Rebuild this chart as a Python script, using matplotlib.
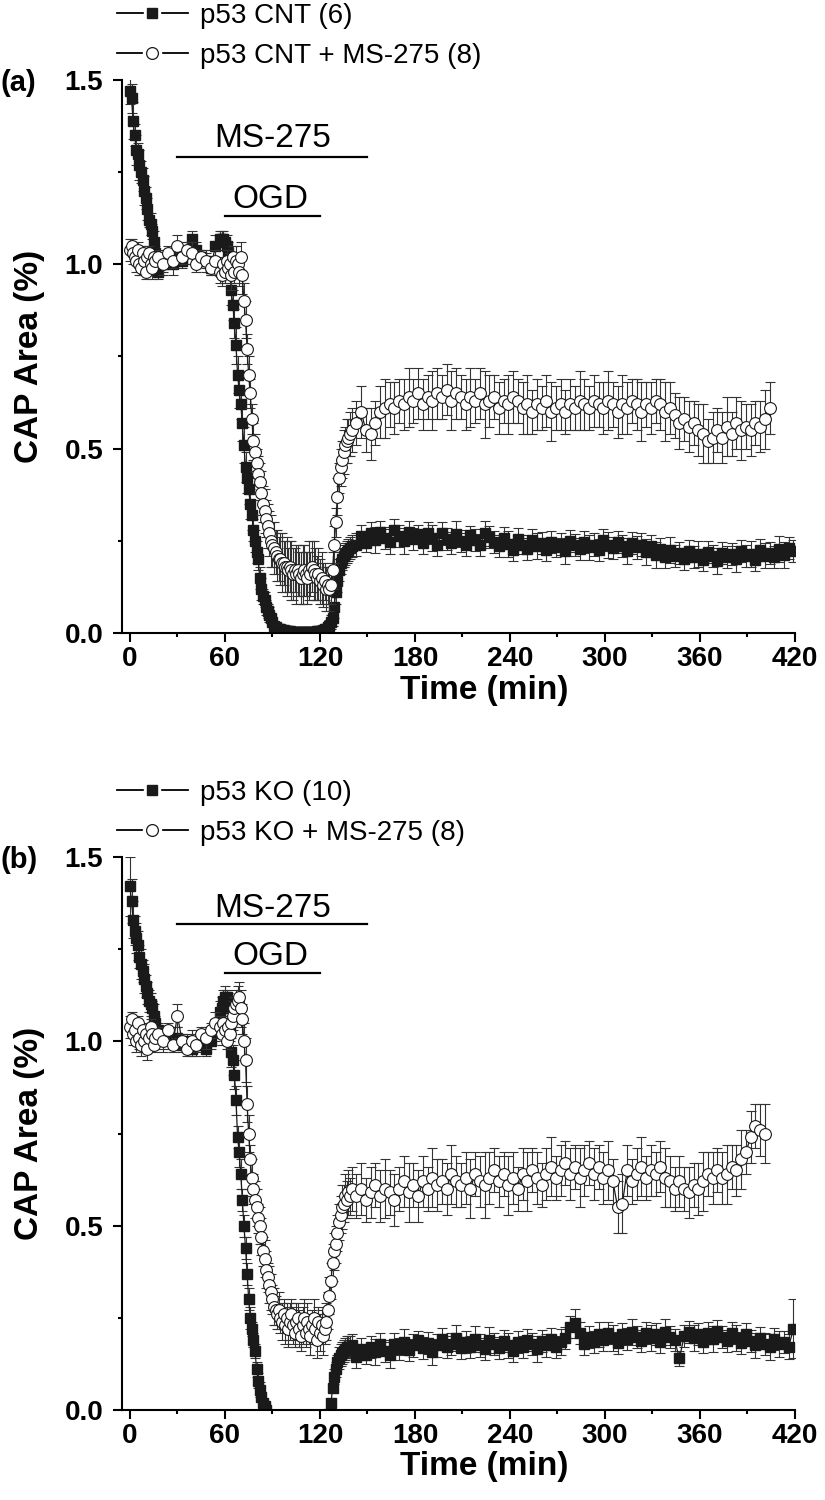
import numpy as np
import matplotlib
matplotlib.use("Agg")
import matplotlib.pyplot as plt
from matplotlib.lines import Line2D
from matplotlib.legend_handler import HandlerTuple
from matplotlib import font_manager

plt.rcParams["font.family"] = ["Liberation Sans", "DejaVu Sans"]

# sampling times (min): 1-min steps around the fast changes, 3-min on plateaus
time_min = np.r_[0:17, 18:58:3, 58:141, 143:420:3]

# ---- panel (a): p53 CNT ----
cnt_label = "p53 CNT (6)"
cnt_ms_label = "p53 CNT + MS-275 (8)"

cnt = [
    1.47, 1.45, 1.39, 1.35, 1.31, 1.30, 1.27, 1.25, 1.23, 1.20, 1.18, 1.15, 1.12, 1.11, 1.09, 1.06, 1.03,
    0.98, 1.00, 1.01, 1.00, 1.02, 1.01, 1.03, 1.07, 1.04, 1.02, 1.01, 0.99, 1.05, 1.07,
    1.07, 1.07, 1.06, 1.05, 1.03, 0.99, 0.93, 0.89, 0.84, 0.78, 0.70, 0.66, 0.62, 0.57, 0.51,
    0.45, 0.42, 0.39, 0.35, 0.32, 0.28, 0.25, 0.22, 0.20, 0.15, 0.12, 0.10, 0.09, 0.07, 0.06,
    0.05, 0.04, 0.03, 0.02, 0.015,
    0.012, 0.010, 0.010, 0.008, 0.008, 0.006, 0.006, 0.005, 0.005, 0.004, 0.004, 0.004, 0.003, 0.003, 0.003,
    0.002, 0.002, 0.002, 0.002, 0.002, 0.002, 0.003, 0.003, 0.004, 0.004, 0.005, 0.005, 0.006, 0.006, 0.008,
    0.010, 0.012, 0.015, 0.020, 0.030,
    0.04, 0.07, 0.11, 0.14, 0.17, 0.19, 0.20, 0.21, 0.215, 0.22, 0.225, 0.23, 0.235,
    0.240, 0.262, 0.245, 0.270, 0.252, 0.275, 0.258, 0.248, 0.280, 0.262,
    0.250, 0.275, 0.255, 0.268, 0.245, 0.272, 0.258, 0.240, 0.270, 0.255,
    0.245, 0.268, 0.250, 0.240, 0.265, 0.252, 0.238, 0.270, 0.260, 0.248,
    0.235, 0.258, 0.242, 0.225, 0.255, 0.240, 0.228, 0.252, 0.236, 0.245,
    0.225, 0.248, 0.232, 0.242, 0.222, 0.250, 0.238, 0.228, 0.246, 0.232,
    0.240, 0.225, 0.252, 0.238, 0.230, 0.248, 0.236, 0.222, 0.245, 0.232,
    0.240, 0.220, 0.235, 0.212, 0.228, 0.205, 0.225, 0.210, 0.218, 0.200,
    0.222, 0.205, 0.215, 0.198, 0.220, 0.208, 0.196, 0.218, 0.205, 0.215,
    0.200, 0.222, 0.208, 0.215, 0.198, 0.225, 0.210, 0.218, 0.205, 0.228,
    0.212, 0.230, 0.222,
]
cnt_err = [
    0.035, 0.04, 0.05, 0.03, 0.04, 0.03, 0.04, 0.03, 0.03, 0.04, 0.03, 0.03, 0.02, 0.03, 0.02, 0.03, 0.02,
    0.02, 0.02, 0.02, 0.03, 0.02, 0.02, 0.03, 0.02, 0.02, 0.02, 0.02, 0.02, 0.03, 0.02,
    0.02, 0.02, 0.02, 0.03, 0.03, 0.04, 0.04, 0.04, 0.04, 0.05, 0.05, 0.05, 0.04, 0.05, 0.05,
    0.04, 0.04, 0.04, 0.04, 0.04, 0.03, 0.03, 0.03, 0.03, 0.03, 0.03, 0.02, 0.02, 0.02, 0.02,
    0.02, 0.01, 0.01, 0.01, 0.01,
    0.01, 0.01, 0.01, 0.01, 0.01, 0.008, 0.008, 0.008, 0.008, 0.008, 0.006, 0.006, 0.006, 0.006, 0.006,
    0.005, 0.005, 0.005, 0.005, 0.005, 0.006, 0.006, 0.006, 0.006, 0.006, 0.008, 0.008, 0.008, 0.008, 0.008,
    0.01, 0.01, 0.01, 0.015, 0.02,
    0.02, 0.03, 0.03, 0.03, 0.03, 0.03, 0.03, 0.03, 0.03, 0.03, 0.03, 0.03, 0.03,
    0.03, 0.03, 0.025, 0.03, 0.035, 0.03, 0.03, 0.035, 0.03, 0.03,
    0.035, 0.03, 0.03, 0.025, 0.03, 0.03, 0.035, 0.03, 0.03, 0.03,
    0.03, 0.035, 0.03, 0.03, 0.025, 0.03, 0.03, 0.035, 0.03, 0.03,
    0.03, 0.03, 0.035, 0.03, 0.03, 0.025, 0.03, 0.03, 0.035, 0.03,
    0.03, 0.03, 0.025, 0.03, 0.035, 0.03, 0.03, 0.03, 0.03, 0.035,
    0.03, 0.03, 0.03, 0.035, 0.03, 0.03, 0.03, 0.035, 0.03, 0.03,
    0.03, 0.035, 0.03, 0.035, 0.03, 0.03, 0.035, 0.03, 0.03, 0.03,
    0.03, 0.03, 0.035, 0.03, 0.03, 0.03, 0.035, 0.03, 0.03, 0.03,
    0.035, 0.03, 0.03, 0.035, 0.03, 0.03, 0.035, 0.03, 0.03, 0.035,
    0.035, 0.03, 0.03,
]
cnt_ms = [
    1.04, 1.05, 1.03, 1.02, 1.01, 1.04, 1.00, 0.99, 1.03, 1.01, 0.98, 1.02, 1.03, 1.00, 0.99, 1.02, 1.01,
    1.02, 1.00, 1.03, 1.01, 1.05, 1.02, 1.04, 1.03, 1.00, 1.02, 1.01, 0.99, 1.01, 0.98,
    0.97, 1.00, 0.98, 1.01, 0.99, 1.00, 0.97, 1.02, 0.98, 1.01, 1.00, 0.98, 1.02, 0.97, 0.90,
    0.85, 0.77, 0.70, 0.65, 0.58, 0.52, 0.49, 0.46, 0.43, 0.41, 0.38, 0.35, 0.33, 0.31, 0.29,
    0.27, 0.25, 0.24, 0.23, 0.22,
    0.21, 0.20, 0.20, 0.19, 0.19, 0.18, 0.18, 0.17, 0.18, 0.17, 0.16, 0.17, 0.16, 0.17, 0.16,
    0.15, 0.16, 0.17, 0.16, 0.15, 0.17, 0.16, 0.18, 0.17, 0.16, 0.15, 0.16, 0.14, 0.15, 0.13,
    0.14, 0.12, 0.13, 0.12, 0.13,
    0.17, 0.24, 0.30, 0.37, 0.42, 0.45, 0.47, 0.49, 0.51, 0.52, 0.53, 0.54, 0.55,
    0.57, 0.60, 0.55, 0.54, 0.57, 0.60, 0.61, 0.62, 0.61, 0.63,
    0.62, 0.64, 0.63, 0.65, 0.62, 0.64, 0.63, 0.65, 0.64, 0.66,
    0.63, 0.65, 0.64, 0.62, 0.64, 0.63, 0.65, 0.62, 0.63, 0.64,
    0.61, 0.63, 0.62, 0.64, 0.63, 0.61, 0.62, 0.60, 0.62, 0.61,
    0.63, 0.60, 0.61, 0.62, 0.60, 0.62, 0.61, 0.63, 0.62, 0.61,
    0.63, 0.62, 0.61, 0.63, 0.62, 0.60, 0.62, 0.61, 0.63, 0.62,
    0.60, 0.62, 0.61, 0.63, 0.62, 0.60, 0.61, 0.59, 0.57, 0.58,
    0.56, 0.57, 0.55, 0.54, 0.52, 0.53, 0.55, 0.53, 0.56, 0.54,
    0.57, 0.55, 0.56, 0.55, 0.57, 0.56, 0.58, 0.61,
]
cnt_ms_err = [
    0.03, 0.02, 0.03, 0.02, 0.03, 0.02, 0.03, 0.02, 0.02, 0.03, 0.02, 0.03, 0.02, 0.02, 0.03, 0.02, 0.02,
    0.02, 0.03, 0.02, 0.02, 0.03, 0.02, 0.02, 0.03, 0.02, 0.02, 0.03, 0.02, 0.03, 0.03,
    0.03, 0.02, 0.03, 0.03, 0.02, 0.03, 0.04, 0.03, 0.03, 0.04, 0.03, 0.04, 0.04, 0.05, 0.05,
    0.05, 0.04, 0.05, 0.04, 0.04, 0.05, 0.05, 0.04, 0.05, 0.05, 0.06, 0.05, 0.06, 0.05, 0.06,
    0.06, 0.07, 0.06, 0.07, 0.06,
    0.07, 0.06, 0.07, 0.08, 0.06, 0.07, 0.08, 0.06, 0.07, 0.08, 0.07, 0.06, 0.08, 0.07, 0.06,
    0.07, 0.08, 0.07, 0.06, 0.07, 0.08, 0.06, 0.07, 0.08, 0.07, 0.06, 0.07, 0.06, 0.07, 0.06,
    0.05, 0.06, 0.05, 0.06, 0.05,
    0.05, 0.05, 0.04, 0.05, 0.04, 0.05, 0.05, 0.06, 0.05, 0.06, 0.05, 0.06, 0.06,
    0.06, 0.07, 0.06, 0.07, 0.06, 0.07, 0.08, 0.06, 0.07, 0.06,
    0.07, 0.08, 0.06, 0.07, 0.07, 0.06, 0.08, 0.07, 0.06, 0.07,
    0.08, 0.07, 0.06, 0.07, 0.08, 0.06, 0.07, 0.09, 0.07, 0.06,
    0.07, 0.06, 0.08, 0.07, 0.06, 0.07, 0.08, 0.06, 0.07, 0.06,
    0.07, 0.08, 0.06, 0.07, 0.06, 0.07, 0.06, 0.08, 0.07, 0.06,
    0.07, 0.06, 0.07, 0.08, 0.06, 0.07, 0.08, 0.07, 0.06, 0.07,
    0.08, 0.06, 0.07, 0.06, 0.07, 0.08, 0.07, 0.06, 0.07, 0.06,
    0.07, 0.06, 0.07, 0.08, 0.06, 0.07, 0.06, 0.07, 0.08, 0.06,
    0.07, 0.08, 0.06, 0.07, 0.06, 0.07, 0.08, 0.07,
]

# ---- panel (b): p53 KO ----
ko_label = "p53 KO (10)"
ko_ms_label = "p53 KO + MS-275 (8)"

ko = [
    1.42, 1.38, 1.33, 1.30, 1.28, 1.26, 1.23, 1.21, 1.19, 1.17, 1.15, 1.13, 1.11, 1.10, 1.09, 1.07, 1.05,
    1.03, 1.01, 1.02, 1.00, 1.01, 0.99, 1.00, 0.98, 0.99, 1.00, 0.98, 1.00, 1.03, 1.08,
    1.09, 1.11, 1.12, 1.12, 1.10, 1.04, 0.97, 0.95, 0.91, 0.84, 0.74, 0.70, 0.64, 0.57, 0.50,
    0.44, 0.37, 0.30, 0.25, 0.22, 0.19, 0.16, 0.11, 0.08, 0.055, 0.035, 0.02, 0.01, 0.0, -0.02,
    -0.03, -0.04, -0.05, -0.05, -0.05,
    -0.05, -0.06, -0.05, -0.06, -0.05, -0.06, -0.05, -0.06, -0.05, -0.06, -0.05, -0.06, -0.05, -0.06, -0.05,
    -0.06, -0.05, -0.06, -0.05, -0.06, -0.05, -0.06, -0.05, -0.06, -0.05, -0.06, -0.05, -0.06, -0.05, -0.06,
    -0.05, -0.05, -0.03, -0.01, 0.02,
    0.06, 0.09, 0.11, 0.13, 0.14, 0.15, 0.155, 0.16, 0.165, 0.17, 0.17, 0.172, 0.175,
    0.145, 0.165, 0.150, 0.172, 0.158, 0.178, 0.160, 0.150, 0.180, 0.165,
    0.185, 0.162, 0.175, 0.190, 0.168, 0.182, 0.158, 0.175, 0.192, 0.170,
    0.180, 0.195, 0.168, 0.185, 0.172, 0.192, 0.175, 0.165, 0.190, 0.178,
    0.168, 0.188, 0.175, 0.160, 0.185, 0.172, 0.190, 0.178, 0.165, 0.188,
    0.175, 0.192, 0.170, 0.185, 0.195, 0.225, 0.235, 0.210, 0.180, 0.198,
    0.185, 0.205, 0.190, 0.210, 0.195, 0.182, 0.205, 0.192, 0.212, 0.198,
    0.188, 0.210, 0.195, 0.205, 0.185, 0.212, 0.198, 0.190, 0.140, 0.200,
    0.212, 0.195, 0.205, 0.185, 0.208, 0.192, 0.215, 0.198, 0.188, 0.210,
    0.195, 0.182, 0.205, 0.188, 0.175, 0.195, 0.180, 0.170, 0.192, 0.178,
    0.185, 0.172, 0.220,
]
ko_err = [
    0.08, 0.06, 0.05, 0.04, 0.04, 0.04, 0.03, 0.04, 0.03, 0.04, 0.03, 0.03, 0.03, 0.03, 0.02, 0.03, 0.02,
    0.02, 0.03, 0.02, 0.02, 0.03, 0.02, 0.02, 0.02, 0.03, 0.02, 0.02, 0.02, 0.03, 0.03,
    0.03, 0.03, 0.03, 0.02, 0.03, 0.04, 0.04, 0.04, 0.04, 0.04, 0.03, 0.04, 0.04, 0.03, 0.03,
    0.03, 0.03, 0.03, 0.03, 0.02, 0.02, 0.02, 0.02, 0.02, 0.02, 0.01, 0.01, 0.01, 0.01, 0.01,
    0.01, 0.01, 0.01, 0.01, 0.01,
    0.01, 0.01, 0.01, 0.01, 0.01, 0.01, 0.01, 0.01, 0.01, 0.01, 0.01, 0.01, 0.01, 0.01, 0.01,
    0.01, 0.01, 0.01, 0.01, 0.01, 0.01, 0.01, 0.01, 0.01, 0.01, 0.01, 0.01, 0.01, 0.01, 0.01,
    0.01, 0.01, 0.01, 0.01, 0.01,
    0.01, 0.02, 0.02, 0.02, 0.03, 0.03, 0.03, 0.03, 0.03, 0.03, 0.03, 0.03, 0.03,
    0.03, 0.03, 0.025, 0.03, 0.035, 0.03, 0.03, 0.035, 0.03, 0.03,
    0.035, 0.03, 0.03, 0.025, 0.03, 0.03, 0.035, 0.03, 0.03, 0.03,
    0.03, 0.035, 0.03, 0.03, 0.03, 0.035, 0.03, 0.03, 0.035, 0.03,
    0.03, 0.03, 0.035, 0.03, 0.03, 0.03, 0.03, 0.03, 0.035, 0.03,
    0.03, 0.03, 0.03, 0.035, 0.03, 0.03, 0.04, 0.03, 0.03, 0.03,
    0.03, 0.035, 0.03, 0.03, 0.035, 0.03, 0.03, 0.03, 0.035, 0.03,
    0.03, 0.03, 0.035, 0.03, 0.03, 0.035, 0.03, 0.03, 0.02, 0.03,
    0.03, 0.035, 0.03, 0.03, 0.03, 0.035, 0.03, 0.03, 0.03, 0.03,
    0.035, 0.03, 0.03, 0.03, 0.035, 0.03, 0.03, 0.035, 0.03, 0.035,
    0.03, 0.035, 0.08,
]
ko_ms = [
    1.04, 1.06, 1.02, 1.03, 1.00, 1.05, 1.01, 0.99, 1.03, 1.00, 1.02, 0.98, 1.01, 1.04, 1.02, 0.99, 1.01,
    1.02, 1.00, 1.03, 0.99, 1.07, 1.00, 0.98, 1.00, 0.99, 1.02, 1.01, 1.03, 1.05, 1.04,
    1.02, 1.05, 1.03, 1.00, 1.04, 1.02, 1.05, 1.07, 1.09, 1.10, 1.11, 1.12, 1.09, 1.06, 1.00,
    0.95, 0.83, 0.75, 0.68, 0.63, 0.60, 0.57, 0.55, 0.52, 0.50, 0.47, 0.43, 0.41, 0.38, 0.36,
    0.34, 0.32, 0.30, 0.28, 0.27,
    0.26, 0.27, 0.25, 0.24, 0.26, 0.23, 0.25, 0.22, 0.24, 0.26, 0.23, 0.21, 0.24, 0.25, 0.22,
    0.20, 0.23, 0.25, 0.21, 0.24, 0.22, 0.20, 0.23, 0.25, 0.22, 0.19, 0.24, 0.21, 0.23, 0.20,
    0.22, 0.24, 0.27, 0.31, 0.35,
    0.40, 0.43, 0.45, 0.48, 0.51, 0.53, 0.55, 0.56, 0.58, 0.57, 0.59, 0.58, 0.60,
    0.58, 0.60, 0.57, 0.59, 0.61, 0.58, 0.60, 0.59, 0.57, 0.60,
    0.62, 0.59, 0.61, 0.58, 0.62, 0.60, 0.63, 0.61, 0.62, 0.60,
    0.64, 0.62, 0.61, 0.63, 0.60, 0.64, 0.62, 0.61, 0.63, 0.65,
    0.62, 0.64, 0.61, 0.63, 0.60, 0.64, 0.62, 0.65, 0.63, 0.61,
    0.64, 0.66, 0.63, 0.65, 0.67, 0.64, 0.66, 0.63, 0.65, 0.67,
    0.64, 0.66, 0.63, 0.65, 0.62, 0.55, 0.56, 0.65, 0.62, 0.64,
    0.66, 0.63, 0.65, 0.64, 0.66, 0.63, 0.62, 0.60, 0.62, 0.60,
    0.59, 0.61, 0.60, 0.62, 0.64, 0.63, 0.65, 0.63, 0.64, 0.66,
    0.65, 0.68, 0.70, 0.74, 0.77, 0.76, 0.75,
]
ko_ms_err = [
    0.03, 0.02, 0.03, 0.02, 0.03, 0.02, 0.03, 0.03, 0.02, 0.03, 0.02, 0.03, 0.02, 0.02, 0.03, 0.02, 0.02,
    0.02, 0.03, 0.02, 0.02, 0.03, 0.02, 0.02, 0.03, 0.02, 0.02, 0.03, 0.02, 0.03, 0.03,
    0.03, 0.02, 0.03, 0.02, 0.03, 0.03, 0.03, 0.04, 0.03, 0.04, 0.04, 0.04, 0.05, 0.04, 0.05,
    0.06, 0.05, 0.05, 0.04, 0.05, 0.04, 0.05, 0.05, 0.04, 0.05, 0.05, 0.04, 0.05, 0.05, 0.04,
    0.05, 0.05, 0.04, 0.05, 0.04,
    0.04, 0.05, 0.04, 0.05, 0.04, 0.05, 0.04, 0.05, 0.05, 0.04, 0.05, 0.04, 0.05, 0.04, 0.05,
    0.04, 0.05, 0.05, 0.04, 0.05, 0.04, 0.05, 0.04, 0.05, 0.04, 0.05, 0.04, 0.05, 0.04, 0.05,
    0.04, 0.05, 0.05, 0.05, 0.05,
    0.05, 0.05, 0.05, 0.05, 0.05, 0.05, 0.06, 0.05, 0.06, 0.05, 0.06, 0.05, 0.06,
    0.06, 0.07, 0.06, 0.07, 0.06, 0.07, 0.08, 0.06, 0.07, 0.06,
    0.07, 0.08, 0.06, 0.07, 0.07, 0.06, 0.08, 0.07, 0.06, 0.07,
    0.08, 0.07, 0.06, 0.07, 0.08, 0.06, 0.07, 0.09, 0.07, 0.06,
    0.07, 0.06, 0.08, 0.07, 0.06, 0.07, 0.08, 0.06, 0.07, 0.06,
    0.07, 0.08, 0.06, 0.07, 0.06, 0.07, 0.06, 0.08, 0.07, 0.06,
    0.07, 0.06, 0.07, 0.08, 0.06, 0.07, 0.08, 0.07, 0.06, 0.07,
    0.08, 0.06, 0.07, 0.06, 0.07, 0.08, 0.07, 0.06, 0.07, 0.06,
    0.07, 0.06, 0.07, 0.08, 0.06, 0.07, 0.06, 0.07, 0.08, 0.06,
    0.07, 0.08, 0.06, 0.07, 0.06, 0.07, 0.08,
]

# treatment bars: (start, end) in min
ms275_span = (30, 150)
ogd_span = (60, 120)

for name, vals in [("cnt", cnt), ("cnt_err", cnt_err), ("ko", ko), ("ko_err", ko_err)]:
    if len(vals) != len(time_min):
        raise ValueError(f"{name}: {len(vals)} values, expected {len(time_min)}")
for a, b, name in [(cnt_ms, cnt_ms_err, "cnt_ms"), (ko_ms, ko_ms_err, "ko_ms")]:
    if len(a) != len(b):
        raise ValueError(f"{name}: {len(a)} vs {len(b)}")

# narrow bold digits on the ticks if a narrow face is installed
installed = {f.name for f in font_manager.fontManager.ttflist}
if "Liberation Sans Narrow" in installed:
    TICK_FAMILY, TICK_SIZE = "Liberation Sans Narrow", 21
else:
    TICK_FAMILY, TICK_SIZE = "Liberation Sans", 20

W, H = 825, 1500
fig = plt.figure(figsize=(W / 100, H / 100), dpi=100)

DARK = "#1a1a1a"


def fx(px):
    return px / W


def fy(py):
    return 1 - py / H


def draw_panel(top_px, bottom_px, tag, labels, solid, solid_err, hollow, hollow_err, ann):
    ax = fig.add_axes([fx(122), fy(bottom_px), fx(795) - fx(122), fy(top_px) - fy(bottom_px)])
    t = time_min
    ax.errorbar(t, solid, yerr=solid_err, fmt="-s", color=DARK, lw=0.9, ms=7.5,
                mfc=DARK, mec=DARK, ecolor="#333333", elinewidth=0.8,
                capsize=3.6, capthick=0.8, zorder=2)
    th = t[:len(hollow)]
    ax.errorbar(th, hollow, yerr=hollow_err, fmt="-o", color=DARK, lw=0.9, ms=8.5,
                mfc="white", mec=DARK, mew=0.8, ecolor="#333333", elinewidth=0.8,
                capsize=3.6, capthick=0.8, zorder=3)

    ax.set_xlim(-5, 420)
    ax.set_ylim(0, 1.5)
    ax.set_xticks(np.arange(0, 421, 60))
    ax.set_xticks(np.arange(30, 420, 60), minor=True)
    ax.set_yticks([0, 0.5, 1.0, 1.5])
    ax.set_yticklabels(["0.0", "0.5", "1.0", "1.5"])
    ax.set_yticks([0.25, 0.75, 1.25], minor=True)
    for s in ["top", "right"]:
        ax.spines[s].set_visible(False)
    for s in ["left", "bottom"]:
        ax.spines[s].set_linewidth(1.5)
    ax.tick_params(which="major", length=6.5, width=1.5, direction="out", labelsize=TICK_SIZE)
    ax.tick_params(which="minor", length=3, width=1.5, direction="out")
    ax.tick_params(axis="y", which="major", pad=7)
    ax.tick_params(axis="x", which="major", pad=3)
    for lbl in ax.get_xticklabels() + ax.get_yticklabels():
        lbl.set_fontweight("bold")
        lbl.set_family([TICK_FAMILY, "Liberation Sans", "DejaVu Sans"])

    # MS-275 and OGD bars
    ms_y, ms_txt, ogd_y, ogd_txt = ann
    ax.plot(ms275_span, [ms_y, ms_y], color="black", lw=1.6, clip_on=False)
    ax.text(90, ms_txt, "MS-275", ha="center", va="baseline", fontsize=24)
    ax.plot(ogd_span, [ogd_y, ogd_y], color="black", lw=1.6, clip_on=False)
    ax.text(89, ogd_txt, "OGD", ha="center", va="baseline", fontsize=24)

    # legend: line broken around the marker, as in the reference
    line = Line2D([], [], color="black", lw=1.3)
    sq_gap = Line2D([], [], ls="none", marker="s", ms=12, mfc="white", mec="white")
    sq = Line2D([], [], ls="none", marker="s", ms=7.5, mfc=DARK, mec=DARK)
    ci_gap = Line2D([], [], ls="none", marker="o", ms=13, mfc="white", mec="white")
    ci = Line2D([], [], ls="none", marker="o", ms=8.5, mfc="white", mec=DARK, mew=0.9)
    off = top_px - 80
    ax.legend([(line, sq_gap, sq), (line, ci_gap, ci)], labels, loc="upper left",
              handler_map={tuple: HandlerTuple(ndivide=1)},
              bbox_to_anchor=(fx(117), fy(3 + off)), bbox_transform=fig.transFigure,
              frameon=False, fontsize=20, handlelength=2.55, handletextpad=0.45,
              labelspacing=0.5, borderpad=0, borderaxespad=0)

    fig.text(fx(1), fy(83 + off), tag, ha="left", va="center", fontsize=21, fontweight="bold")
    fig.text(fx(30), fy((top_px + bottom_px) / 2), "CAP Area (%)", rotation=90,
             ha="center", va="center", fontsize=24, fontweight="bold")
    fig.text(fx(484), fy(690 + off), "Time (min)", ha="center", va="center",
             fontsize=24, fontweight="bold")
    return ax


draw_panel(80, 633, "(a)", [cnt_label, cnt_ms_label], cnt, cnt_err, cnt_ms, cnt_ms_err,
           (1.292, 1.319, 1.131, 1.153))
draw_panel(857, 1410, "(b)", [ko_label, ko_ms_label], ko, ko_err, ko_ms, ko_ms_err,
           (1.317, 1.336, 1.186, 1.207))

fig.savefig("out.png", dpi=100)
